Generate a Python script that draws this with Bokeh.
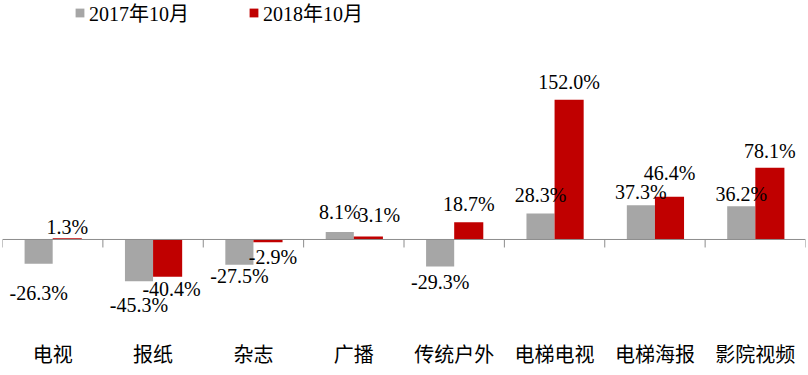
import numpy as np
from bokeh.plotting import figure
from bokeh.models import ColumnDataSource, FactorRange, Span, Legend, LegendItem
from bokeh.transform import dodge
from bokeh.core.properties import value
from bokeh.embed import file_html
from bokeh.resources import INLINE

categories = ["电视", "报纸", "杂志", "广播", "传统户外", "电梯电视", "电梯海报", "影院视频"]
series_names = ["2017年10月", "2018年10月"]
values_2017 = [-26.3, -45.3, -27.5, 8.1, -29.3, 28.3, 37.3, 36.2]
values_2018 = [1.3, -40.4, -2.9, 3.1, 18.7, 152.0, 46.4, 78.1]

# label nudges (screen px, distance of label centre from bar end; horizontal shift)
gap_2017 = [29, 24, 11, 20, 16, 18, 13, 12]
gap_2018 = [11, 12, 15, 22, 18, 18, 24, 17]
shift_2017 = [0, 0, 0, 0, 0, 0, 0, 0]
shift_2018 = [0, 4, 5, 11, 0, 0, 0, 0]

GRAY = "#A6A6A6"
RED = "#C00000"
AXIS = "#8C8C8C"
FONT = "Liberation Serif, Noto Sans CJK SC"


def fmt(v):
    return f"{v:.1f}%"


src = ColumnDataSource(dict(
    cat=categories,
    v17=values_2017,
    v18=values_2018,
    l17=[fmt(v) for v in values_2017],
    l18=[fmt(v) for v in values_2018],
    dy17=[-g if v >= 0 else g for v, g in zip(values_2017, gap_2017)],
    dy18=[-g if v >= 0 else g for v, g in zip(values_2018, gap_2018)],
    dx17=shift_2017,
    dx18=shift_2018,
))

p = figure(x_range=FactorRange(*categories, range_padding=0),
           y_range=(-95.7, 259.8),
           width=808, height=375,
           output_backend="svg", toolbar_location=None,
           min_border_left=2, min_border_right=3, min_border_top=0, min_border_bottom=48)

p.outline_line_color = None
p.grid.visible = False
p.yaxis.visible = False
p.xaxis.axis_line_color = None
p.xaxis.major_tick_line_color = None
p.xaxis.minor_tick_line_color = None
p.xaxis.major_label_text_font = FONT
p.xaxis.major_label_text_font_size = "20px"
p.xaxis.major_label_text_color = "#000000"
p.xaxis.major_label_standoff = 10

r17 = p.vbar(x=dodge("cat", -0.14, range=p.x_range), top="v17", width=0.28,
             source=src, fill_color=GRAY, line_color=None)
r18 = p.vbar(x=dodge("cat", 0.145, range=p.x_range), top="v18", width=0.29,
             source=src, fill_color=RED, line_color=None)

p.add_layout(Span(location=0, dimension="width", line_color=AXIS, line_width=1))

# tick marks at category boundaries
p.ray(x=dodge("cat", -0.5, range=p.x_range), y=0, length=8, length_units="screen",
      angle=-np.pi / 2, source=src, line_color=AXIS, line_width=1)
p.ray(x=dodge("cat", 0.5, range=p.x_range), y=0, length=8, length_units="screen",
      angle=-np.pi / 2, source=ColumnDataSource(dict(cat=[categories[-1]])),
      line_color=AXIS, line_width=1)

common = dict(text_font=value(FONT), text_font_size="20px", text_color="#000000",
              text_align="center", text_baseline="middle", source=src)
p.text(x=dodge("cat", -0.14, range=p.x_range), y="v17", text="l17",
       x_offset="dx17", y_offset="dy17", **common)
p.text(x=dodge("cat", 0.145, range=p.x_range), y="v18", text="l18",
       x_offset="dx18", y_offset="dy18", **common)

legend = Legend(items=[LegendItem(label=series_names[0], renderers=[r17]),
                       LegendItem(label=series_names[1], renderers=[r18])],
                location=(72, 300), orientation="horizontal",
                glyph_width=11, glyph_height=11, label_standoff=4, spacing=59,
                padding=0, margin=0, border_line_color=None,
                background_fill_alpha=0,
                label_text_font=FONT, label_text_font_size="20px",
                label_text_color="#000000")
p.add_layout(legend)

open("out.html", "w").write(file_html(p, INLINE))
